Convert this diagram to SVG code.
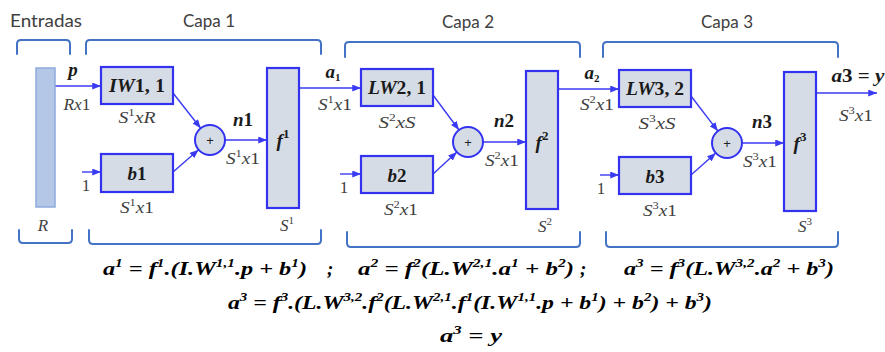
<svg xmlns="http://www.w3.org/2000/svg" width="885" height="352" viewBox="0 0 885 352">
<defs>
<style>
.br{fill:none;stroke:#4472c4;stroke-width:2;stroke-linecap:round}
.box{fill:#d6dce5;stroke:#3232f0;stroke-width:2.2}
.sum{fill:#d6dce5;stroke:#3232f0;stroke-width:2}
.inp{fill:#b4c7e7;stroke:#8eaadb;stroke-width:1.5}
.ln{fill:none;stroke:#3a3af2;stroke-width:1.4}
.ttl{font-family:Lato,"Liberation Sans",sans-serif;font-size:17px;fill:#404040;text-anchor:middle}
.lbl{font-family:"Liberation Serif",serif;font-style:italic;font-size:17px;fill:#404040;text-anchor:middle}
.bl{font-family:"Liberation Serif",serif;font-style:italic;font-weight:bold;font-size:19px;fill:#1a1a1a;text-anchor:middle}
.up{font-style:normal}
.s{font-size:11px}
.fs{font-size:13px}
.plus{font-family:"Liberation Sans",sans-serif;font-size:13px;fill:#222;text-anchor:middle}
.eq{font-family:"Liberation Serif",serif;font-style:italic;font-weight:bold;font-size:19px;fill:#000}
.es{font-size:12px}
</style>
<marker id="ah" viewBox="0 0 10 8" refX="10" refY="4" markerWidth="9" markerHeight="7" markerUnits="userSpaceOnUse" orient="auto"><path d="M0,0 L10,4 L0,8 z" fill="#3a3af2"/></marker>
</defs>
<rect width="885" height="352" fill="#ffffff"/>

<g id="titles">
<text class="ttl" x="46" y="27" textLength="72" lengthAdjust="spacingAndGlyphs">Entradas</text>
<text class="ttl" x="209" y="27">Capa 1</text>
<text class="ttl" x="468" y="28">Capa 2</text>
<text class="ttl" x="727" y="28">Capa 3</text>
</g>

<g id="brackets">
<path class="br" d="M17,54 L17,44 Q17,40 21,40 L66,40 Q70,40 70,44 L70,54"/>
<path class="br" d="M86,54 L86,44 Q86,40 90,40 L317,40 Q321,40 321,44 L321,54"/>
<path class="br" d="M345,57 L345,46 Q345,42 349,42 L576,42 Q580,42 580,46 L580,57"/>
<path class="br" d="M603,57 L603,46 Q603,42 607,42 L834,42 Q838,42 838,46 L838,57"/>
<path class="br" d="M19,230 L19,239 Q19,243 23,243 L68,243 Q72,243 72,239 L72,230"/>
<path class="br" d="M89,230 L89,240 Q89,244 93,244 L317,244 Q321,244 321,240 L321,230"/>
<path class="br" d="M347,232 L347,243 Q347,247 351,247 L576,247 Q580,247 580,243 L580,232"/>
<path class="br" d="M606,232 L606,243 Q606,247 610,247 L834,247 Q838,247 838,243 L838,232"/>
</g>

<g id="connectors">
<line class="ln" x1="55" y1="86" x2="101" y2="86" marker-end="url(#ah)"/>
<line class="ln" x1="82" y1="172" x2="101" y2="172" marker-end="url(#ah)"/>
<line class="ln" x1="173" y1="93" x2="200.7" y2="128.2" marker-end="url(#ah)"/>
<line class="ln" x1="173" y1="172" x2="198.6" y2="149.8" marker-end="url(#ah)"/>
<line class="ln" x1="225" y1="140" x2="267" y2="140" marker-end="url(#ah)"/>
<line class="ln" x1="299" y1="88" x2="361" y2="88" marker-end="url(#ah)"/>
<line class="ln" x1="340" y1="174" x2="361" y2="174" marker-end="url(#ah)"/>
<line class="ln" x1="433" y1="95" x2="459" y2="130" marker-end="url(#ah)"/>
<line class="ln" x1="433" y1="174" x2="456.9" y2="152.1" marker-end="url(#ah)"/>
<line class="ln" x1="483" y1="142" x2="526" y2="142" marker-end="url(#ah)"/>
<line class="ln" x1="558" y1="89" x2="619" y2="89" marker-end="url(#ah)"/>
<line class="ln" x1="600" y1="175" x2="619" y2="175" marker-end="url(#ah)"/>
<line class="ln" x1="691" y1="96" x2="717.9" y2="131.1" marker-end="url(#ah)"/>
<line class="ln" x1="691" y1="175" x2="715.8" y2="153" marker-end="url(#ah)"/>
<line class="ln" x1="742" y1="143" x2="784" y2="143" marker-end="url(#ah)"/>
<line class="ln" x1="816" y1="93" x2="877" y2="93" marker-end="url(#ah)"/>
</g>

<g id="input">
<rect class="inp" x="36" y="68" width="19" height="139"/>
<text class="lbl" x="43" y="231">R</text>
<text class="bl" x="73" y="76">p</text>
<text class="lbl" x="77" y="110" textLength="27" lengthAdjust="spacingAndGlyphs">Rx<tspan class="up">1</tspan></text>
<text class="lbl" x="86" y="191"><tspan class="up">1</tspan></text>
</g>

<g id="layer1">
<rect class="box" x="101" y="67" width="72" height="37"/>
<text class="bl" x="137" y="92" textLength="56" lengthAdjust="spacingAndGlyphs">IW<tspan class="up">1, 1</tspan></text>
<text class="lbl" x="137" y="123" textLength="37" lengthAdjust="spacingAndGlyphs">S<tspan class="s up" dy="-7">1</tspan><tspan dy="7">xR</tspan></text>
<rect class="box" x="101" y="154" width="72" height="38"/>
<text class="bl" x="137" y="180">b<tspan class="up">1</tspan></text>
<text class="lbl" x="137" y="213" textLength="34" lengthAdjust="spacingAndGlyphs">S<tspan class="s up" dy="-7">1</tspan><tspan dy="7">x</tspan><tspan class="up">1</tspan></text>
<circle class="sum" cx="210" cy="140" r="15"/>
<text class="plus" x="210" y="144.5">+</text>
<text class="bl" x="243" y="126">n<tspan class="up">1</tspan></text>
<text class="lbl" x="243" y="164" textLength="34" lengthAdjust="spacingAndGlyphs">S<tspan class="s up" dy="-7">1</tspan><tspan dy="7">x</tspan><tspan class="up">1</tspan></text>
<rect class="box" x="267" y="68" width="32" height="140"/>
<text class="bl" x="283" y="147" font-size="21">f<tspan class="fs up" dy="-9">1</tspan></text>
<text class="lbl" x="287" y="231">S<tspan class="s up" dy="-7">1</tspan></text>
<text class="bl" x="333" y="78">a<tspan class="s up" dy="3">1</tspan></text>
<text class="lbl" x="335" y="110" textLength="34" lengthAdjust="spacingAndGlyphs">S<tspan class="s up" dy="-7">1</tspan><tspan dy="7">x</tspan><tspan class="up">1</tspan></text>
</g>

<g id="layer2">
<rect class="box" x="361" y="69" width="72" height="37"/>
<text class="bl" x="397" y="94" textLength="58" lengthAdjust="spacingAndGlyphs">LW<tspan class="up">2, 1</tspan></text>
<text class="lbl" x="397" y="128" textLength="37" lengthAdjust="spacingAndGlyphs">S<tspan class="s up" dy="-7">2</tspan><tspan dy="7">xS</tspan></text>
<rect class="box" x="361" y="156" width="72" height="37"/>
<text class="bl" x="397" y="182">b<tspan class="up">2</tspan></text>
<text class="lbl" x="401" y="215" textLength="34" lengthAdjust="spacingAndGlyphs">S<tspan class="s up" dy="-7">2</tspan><tspan dy="7">x</tspan><tspan class="up">1</tspan></text>
<text class="lbl" x="344" y="193"><tspan class="up">1</tspan></text>
<circle class="sum" cx="468" cy="142" r="15"/>
<text class="plus" x="468" y="146.5">+</text>
<text class="bl" x="504" y="127">n<tspan class="up">2</tspan></text>
<text class="lbl" x="502" y="166" textLength="34" lengthAdjust="spacingAndGlyphs">S<tspan class="s up" dy="-7">2</tspan><tspan dy="7">x</tspan><tspan class="up">1</tspan></text>
<rect class="box" x="526" y="71" width="32" height="138"/>
<text class="bl" x="542" y="149" font-size="21">f<tspan class="fs up" dy="-9">2</tspan></text>
<text class="lbl" x="545" y="232">S<tspan class="s up" dy="-7">2</tspan></text>
<text class="bl" x="592" y="79">a<tspan class="s up" dy="3">2</tspan></text>
<text class="lbl" x="597" y="110" textLength="34" lengthAdjust="spacingAndGlyphs">S<tspan class="s up" dy="-7">2</tspan><tspan dy="7">x</tspan><tspan class="up">1</tspan></text>
</g>

<g id="layer3">
<rect class="box" x="619" y="70" width="72" height="37"/>
<text class="bl" x="655" y="95" textLength="58" lengthAdjust="spacingAndGlyphs">LW<tspan class="up">3, 2</tspan></text>
<text class="lbl" x="657" y="129" textLength="37" lengthAdjust="spacingAndGlyphs">S<tspan class="s up" dy="-7">3</tspan><tspan dy="7">xS</tspan></text>
<rect class="box" x="619" y="157" width="72" height="37"/>
<text class="bl" x="655" y="183">b<tspan class="up">3</tspan></text>
<text class="lbl" x="660" y="216" textLength="34" lengthAdjust="spacingAndGlyphs">S<tspan class="s up" dy="-7">3</tspan><tspan dy="7">x</tspan><tspan class="up">1</tspan></text>
<text class="lbl" x="601" y="194"><tspan class="up">1</tspan></text>
<circle class="sum" cx="727" cy="143" r="15"/>
<text class="plus" x="727" y="147.5">+</text>
<text class="bl" x="762" y="128">n<tspan class="up">3</tspan></text>
<text class="lbl" x="760" y="167" textLength="34" lengthAdjust="spacingAndGlyphs">S<tspan class="s up" dy="-7">3</tspan><tspan dy="7">x</tspan><tspan class="up">1</tspan></text>
<rect class="box" x="784" y="72" width="32" height="139"/>
<text class="bl" x="800" y="150" font-size="21">f<tspan class="fs up" dy="-9">3</tspan></text>
<text class="lbl" x="805" y="232">S<tspan class="s up" dy="-7">3</tspan></text>
<text class="bl" x="858" y="82" textLength="53" lengthAdjust="spacingAndGlyphs">a<tspan class="up">3 = </tspan>y</text>
<text class="lbl" x="856" y="121" textLength="34" lengthAdjust="spacingAndGlyphs">S<tspan class="s up" dy="-7">3</tspan><tspan dy="7">x</tspan><tspan class="up">1</tspan></text>
</g>

<g id="equations">
<text class="eq" x="103" y="275" textLength="204" lengthAdjust="spacingAndGlyphs">a<tspan class="es" dy="-8">1</tspan><tspan dy="8"> = f</tspan><tspan class="es" dy="-8">1</tspan><tspan dy="8">.(I.W</tspan><tspan class="es" dy="-8">1,1</tspan><tspan dy="8">.p + b</tspan><tspan class="es" dy="-8">1</tspan><tspan dy="8">)</tspan></text>
<text class="eq" x="327" y="275">;</text>
<text class="eq" x="358" y="275" textLength="216" lengthAdjust="spacingAndGlyphs">a<tspan class="es" dy="-8">2</tspan><tspan dy="8"> = f</tspan><tspan class="es" dy="-8">2</tspan><tspan dy="8">(L.W</tspan><tspan class="es" dy="-8">2,1</tspan><tspan dy="8">.a</tspan><tspan class="es" dy="-8">1</tspan><tspan dy="8"> + b</tspan><tspan class="es" dy="-8">2</tspan><tspan dy="8">)</tspan></text>
<text class="eq" x="580" y="275">;</text>
<text class="eq" x="624" y="275" textLength="210" lengthAdjust="spacingAndGlyphs">a<tspan class="es" dy="-8">3</tspan><tspan dy="8"> = f</tspan><tspan class="es" dy="-8">3</tspan><tspan dy="8">(L.W</tspan><tspan class="es" dy="-8">3,2</tspan><tspan dy="8">.a</tspan><tspan class="es" dy="-8">2</tspan><tspan dy="8"> + b</tspan><tspan class="es" dy="-8">3</tspan><tspan dy="8">)</tspan></text>
<text class="eq" x="228" y="309" textLength="484" lengthAdjust="spacingAndGlyphs">a<tspan class="es" dy="-8">3</tspan><tspan dy="8"> = f</tspan><tspan class="es" dy="-8">3</tspan><tspan dy="8">.(L.W</tspan><tspan class="es" dy="-8">3,2</tspan><tspan dy="8">.f</tspan><tspan class="es" dy="-8">2</tspan><tspan dy="8">(L.W</tspan><tspan class="es" dy="-8">2,1</tspan><tspan dy="8">.f</tspan><tspan class="es" dy="-8">1</tspan><tspan dy="8">(I.W</tspan><tspan class="es" dy="-8">1,1</tspan><tspan dy="8">.p + b</tspan><tspan class="es" dy="-8">1</tspan><tspan dy="8">) + b</tspan><tspan class="es" dy="-8">2</tspan><tspan dy="8">) + b</tspan><tspan class="es" dy="-8">3</tspan><tspan dy="8">)</tspan></text>
<text class="eq" x="440" y="342" textLength="62" lengthAdjust="spacingAndGlyphs">a<tspan class="es" dy="-8">3</tspan><tspan dy="8"> = y</tspan></text>
</g>
</svg>
